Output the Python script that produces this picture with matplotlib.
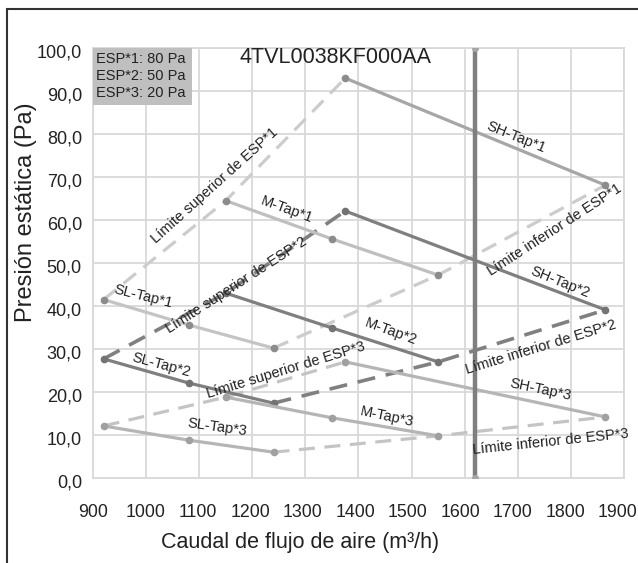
import matplotlib
matplotlib.use("Agg")
import matplotlib.pyplot as plt
from matplotlib.patches import Rectangle
from matplotlib.ticker import FuncFormatter
from matplotlib.transforms import ScaledTranslation

plt.rcParams['font.family'] = ['Liberation Sans', 'DejaVu Sans']

# Tap curves (caudal m3/h, presion Pa)
sl_x = [920, 1080, 1240]
m_x = [1150, 1350, 1550]
sh_x = [1375, 1865]

sl_tap1 = [41.5, 35.6, 30.2]
m_tap1 = [64.5, 55.6, 47.2]
sh_tap1 = [93.0, 68.1]

sl_tap2 = [27.7, 22.1, 17.4]
m_tap2 = [43.0, 34.9, 27.0]
sh_tap2 = [62.1, 39.1]

sl_tap3 = [12.1, 8.8, 6.0]
m_tap3 = [18.8, 14.0, 9.8]
sh_tap3 = [27.0, 14.2]

# limit lines
sup_x = [920, 1150, 1375]
inf_x = [1240, 1550, 1865]
sup_esp1 = [41.5, 64.5, 93.0]
inf_esp1 = [30.2, 47.2, 68.1]
sup_esp2 = [27.7, 43.0, 62.1]
inf_esp2 = [17.4, 27.0, 39.1]
sup_esp3 = [12.1, 18.8, 27.0]
inf_esp3 = [6.0, 9.8, 14.2]

vline_x = 1620
x_ticks = list(range(900, 2000, 100))
y_ticks = list(range(0, 110, 10))

fig = plt.figure(figsize=(6.38, 5.63), dpi=100)
ax = fig.add_axes([0.1458, 0.151, 0.8322, 0.7637])

# outer frame (cropped at right/bottom)
fig.patches.append(Rectangle((7 / 638, -0.1), 2.0, 1 - 9 / 563 + 0.1,
                             transform=fig.transFigure, fill=False,
                             edgecolor='#333333', linewidth=1.5))

grid_c = '#d9d9d9'
ax.set_xlim(900, 1900)
ax.set_ylim(0, 100)
ax.set_xticks(x_ticks)
ax.set_yticks(y_ticks)
ax.grid(True, color=grid_c, linewidth=1.3)
ax.set_axisbelow(True)
for s in ax.spines.values():
    s.set_color(grid_c)
    s.set_linewidth(1.3)
ax.tick_params(length=0, labelsize=13, colors='#222222')
ax.tick_params(axis='x', pad=19, labelsize=12.8)
ax.tick_params(axis='y', pad=8)
ax.yaxis.set_major_formatter(FuncFormatter(lambda v, p: f"{v:.1f}".replace('.', ',')))

# nudge x tick labels slightly left towards the right end, y labels a bit down
for i, lab in enumerate(ax.get_xticklabels()):
    lab.set_transform(lab.get_transform() + ScaledTranslation(-0.6 * i / 100, 0, fig.dpi_scale_trans))
for lab in ax.get_yticklabels():
    lab.set_transform(lab.get_transform() + ScaledTranslation(0, -3 / 100, fig.dpi_scale_trans))

ax.set_xlabel('Caudal de flujo de aire (m³/h)', fontsize=15.5, color='#222222')
ax.xaxis.set_label_coords(0.39, -0.151)
ax.xaxis.label.set_va('center')
ax.set_ylabel('Presión estática (Pa)', fontsize=17, color='#222222')
ax.yaxis.set_label_coords(-0.126, 0.619)
ax.yaxis.label.set_va('center')

dash = (0, (5, 3))


def solid(x, y, color, mcolor):
    ax.plot(x, y, color=color, lw=2.3, marker='o', ms=4.5,
            mfc=mcolor, mec=mcolor, solid_capstyle='round', zorder=3)


def dashed(x, y, color, lw=2.3):
    ax.plot(x, y, color=color, lw=lw, ls=dash, zorder=2)


dashed(sup_x, sup_esp1, '#cccccc')
dashed(inf_x, inf_esp1, '#cccccc')
dashed(sup_x, sup_esp2, '#808080', lw=2.6)
dashed(inf_x, inf_esp2, '#808080', lw=2.6)
dashed(sup_x, sup_esp3, '#c4c4c4')
dashed(inf_x, inf_esp3, '#c4c4c4')

solid(sh_x, sh_tap1, '#a6a6a6', '#8c8c8c')
solid(m_x, m_tap1, '#bfbfbf', '#8c8c8c')
solid(sl_x, sl_tap1, '#c4c4c4', '#8c8c8c')
solid(sh_x, sh_tap2, '#7f7f7f', '#737373')
solid(m_x, m_tap2, '#7f7f7f', '#737373')
solid(sl_x, sl_tap2, '#7f7f7f', '#737373')
solid(sh_x, sh_tap3, '#b5b5b5', '#a0a0a0')
solid(m_x, m_tap3, '#b5b5b5', '#a0a0a0')
solid(sl_x, sl_tap3, '#b5b5b5', '#a0a0a0')

ax.plot([vline_x, vline_x], [0, 100], color='#7f7f7f', lw=3.2, marker='o',
        ms=4, mfc='#a6a6a6', mec='#a6a6a6', zorder=4)

# curve labels: (text, x, y, rotation)
labels = [
    ('Límite superior de ESP*1', 1129, 68.1, 42),
    ('SH-Tap*1', 1697, 79.3, -22),
    ('M-Tap*1', 1264, 62.3, -20),
    ('Límite inferior de ESP*1', 1770, 57.7, 33),
    ('Límite superior de ESP*2', 1170, 44.9, 33),
    ('SL-Tap*1', 994, 42.1, -14),
    ('M-Tap*2', 1461, 34.0, -20),
    ('SH-Tap*2', 1779, 45.6, -22),
    ('Límite inferior de ESP*2', 1744, 30.5, 17),
    ('SL-Tap*2', 1029, 26.3, -15),
    ('Límite superior de ESP*3', 1264, 25.1, 17),
    ('SH-Tap*3', 1742, 20.5, -12),
    ('M-Tap*3', 1453, 14.2, -12),
    ('SL-Tap*3', 1134, 11.9, -8),
    ('Límite inferior de ESP*3', 1762, 8.4, 6),
]
for txt, lx, ly, rot in labels:
    ax.text(lx, ly, txt, rotation=rot, rotation_mode='anchor', ha='center',
            va='center', fontsize=10.5, color='#222222', zorder=5)

# ESP legend box
ax.add_patch(Rectangle((0, 0.867), 0.186, 0.133, transform=ax.transAxes,
                       facecolor='#bfbfbf', edgecolor='none', zorder=6))
ax.text(0.006, 0.99, 'ESP*1: 80 Pa\nESP*2: 50 Pa\nESP*3: 20 Pa', transform=ax.transAxes,
        ha='left', va='top', fontsize=10.5, color='#222222', linespacing=1.28, zorder=7)

ax.text(1356, 100.3, '4TVL0038KF000AA', ha='center', va='top', fontsize=15.5,
        color='#222222', zorder=5)

fig.savefig('out.png', dpi=100)
